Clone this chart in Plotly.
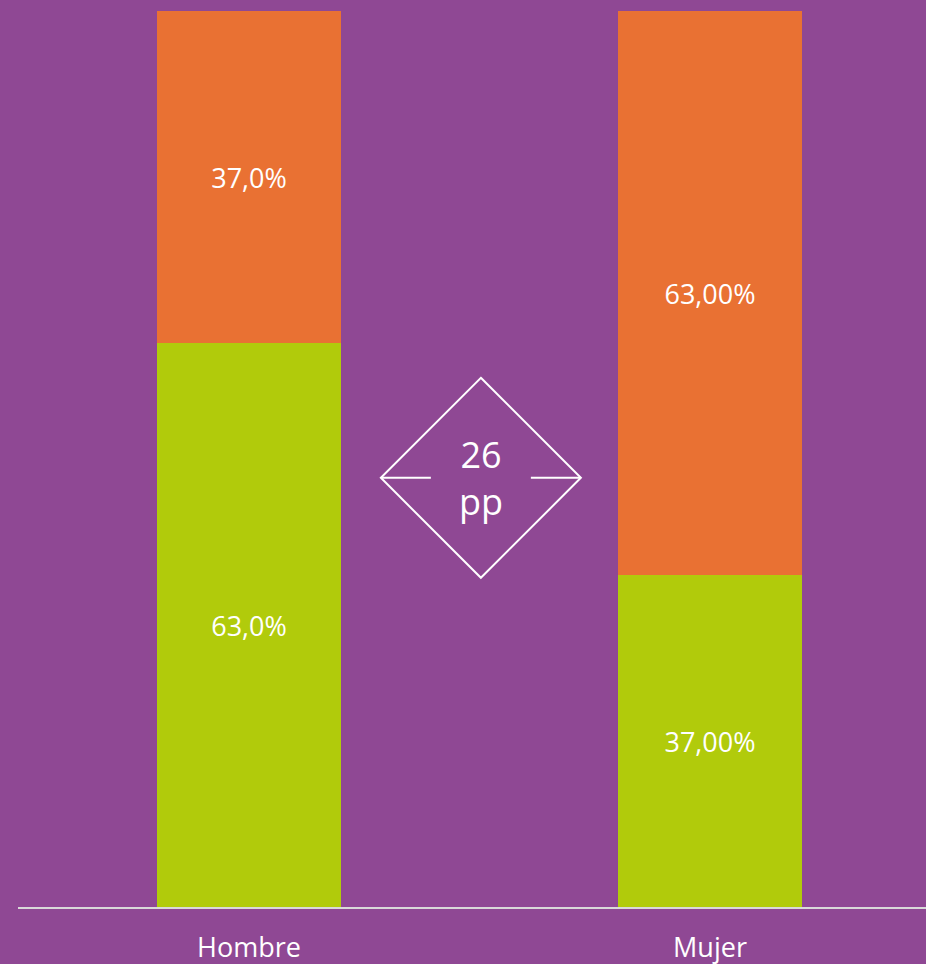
import plotly.graph_objects as go

categories = ["Hombre", "Mujer"]
green_values = [63.0, 37.0]
orange_values = [37.0, 63.0]
green_labels = ["63,0%", "37,00%"]
orange_labels = ["37,0%", "63,00%"]
diff_label = "26<br>pp"

BG = "#8F4894"
GREEN = "#B1CB0B"
ORANGE = "#E97133"
FONT = "Open Sans"

fig = go.Figure()
fig.add_trace(go.Bar(
    x=categories, y=green_values, marker=dict(color=GREEN, line=dict(width=0)),
    text=green_labels, texttemplate="%{text}", textposition="inside",
    insidetextanchor="middle", textfont=dict(color="white", size=27, family=FONT),
    width=0.399, hoverinfo="skip"))
fig.add_trace(go.Bar(
    x=categories, y=orange_values, marker=dict(color=ORANGE, line=dict(width=0)),
    text=orange_labels, texttemplate="%{text}", textposition="inside",
    insidetextanchor="middle", textfont=dict(color="white", size=27, family=FONT),
    width=0.399, hoverinfo="skip"))

# diamond marker between the bars
anchor_x = 0.503
anchor_y = 47.9
fig.add_shape(type="path", xref="x", yref="y", xsizemode="pixel", ysizemode="pixel",
              xanchor=anchor_x, yanchor=anchor_y,
              path="M 0 100 L 100 0 L 0 -100 L -100 0 Z",
              line=dict(color="white", width=2), fillcolor="rgba(0,0,0,0)")
fig.add_shape(type="path", xref="x", yref="y", xsizemode="pixel", ysizemode="pixel",
              xanchor=anchor_x, yanchor=anchor_y,
              path="M -100 0 L -50 0", line=dict(color="white", width=2))
fig.add_shape(type="path", xref="x", yref="y", xsizemode="pixel", ysizemode="pixel",
              xanchor=anchor_x, yanchor=anchor_y,
              path="M 50 0 L 100 0", line=dict(color="white", width=2))
fig.add_annotation(x=anchor_x, y=anchor_y, xref="x", yref="y", text=diff_label,
                   showarrow=False, font=dict(color="white", size=36, family=FONT),
                   align="center")

fig.update_layout(
    barmode="stack", width=926, height=964,
    paper_bgcolor=BG, plot_bgcolor=BG,
    margin=dict(l=18, r=0, t=11, b=57, autoexpand=False),
    showlegend=False, bargap=0,
    font=dict(family=FONT, color="white"),
)
fig.update_xaxes(type="category", range=[-0.501, 1.4685], showline=True,
                 linecolor="#D9D9D9", linewidth=2, showgrid=False, zeroline=False,
                 automargin=False,
                 ticks="outside", ticklen=16, tickcolor=BG,
                 tickfont=dict(size=27, color="white", family=FONT))
fig.update_yaxes(range=[0, 100], visible=False, showgrid=False, zeroline=False,
                 automargin=False)

fig.write_html("out.html", config={"displayModeBar": False},
               post_script="document.body.style.margin='0';document.body.style.overflow='hidden';")
